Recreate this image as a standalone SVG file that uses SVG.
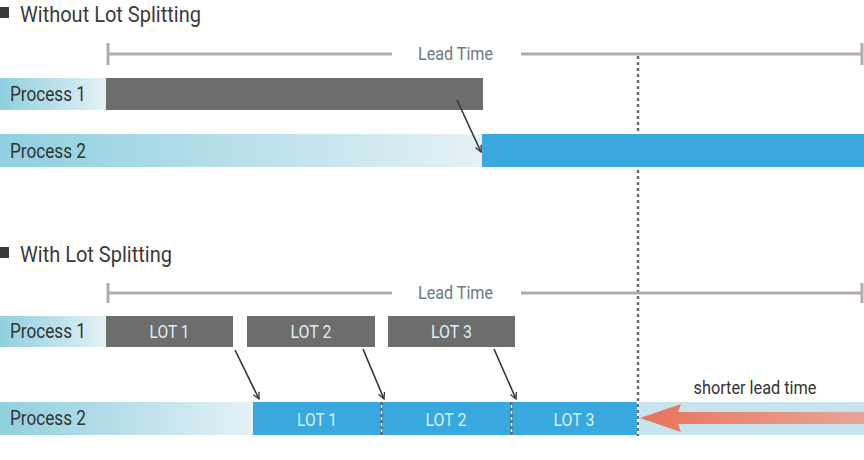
<svg xmlns="http://www.w3.org/2000/svg" width="864" height="460" viewBox="0 0 864 460">
<defs>
<linearGradient id="gLab" x1="0" y1="0" x2="1" y2="0">
<stop offset="0" stop-color="#8fd0df"/><stop offset="0.5" stop-color="#b9dfea"/><stop offset="1" stop-color="#e4f1f6"/>
</linearGradient>
<linearGradient id="gRed" x1="0" y1="0" x2="1" y2="0">
<stop offset="0" stop-color="#e8725a"/><stop offset="0.35" stop-color="#e8866f"/><stop offset="1" stop-color="#e5a497"/>
</linearGradient>
<marker id="ah" viewBox="0 0 10 10" refX="9" refY="5" markerWidth="8" markerHeight="8" markerUnits="userSpaceOnUse" orient="auto">
<path d="M1,1 L9,5 L1,9" fill="none" stroke="#333" stroke-width="1.6"/>
</marker>
</defs>
<style>
text{font-family:Roboto,"Liberation Sans",sans-serif}
.title{font-size:22px;fill:#3a3a3a}
.lab{font-size:19.5px;fill:#333}
.lead{font-size:19px;fill:#6e7880}
.lot{font-size:18.5px;fill:#dcf0f6}
.ln{stroke:#b3abab;stroke-width:3;fill:none}
.dark{fill:#6d6d6d}
.blue{fill:#38a8df}
.conn{stroke:#333;stroke-width:1.6;fill:none;marker-end:url(#ah)}
.sep{stroke:#6a6a6a;stroke-width:2.5;stroke-dasharray:3 3}
</style>
<g id="title1"><rect x="0" y="7" width="9" height="11" fill="#3a3a3a"/><text class="title" x="20" y="21.5" textLength="181" lengthAdjust="spacingAndGlyphs">Without Lot Splitting</text></g>
<g id="lead1">
<path class="ln" d="M108,43 V65 M108,54 H392 M521,54 H862 M862,43 V65"/>
<text class="lead" x="418" y="60" textLength="75" lengthAdjust="spacingAndGlyphs">Lead Time</text>
</g>
<g id="vline"><line x1="638" y1="56" x2="638" y2="436" class="sep"/></g>
<g id="p1a"><rect x="0" y="78" width="106" height="32" fill="url(#gLab)"/><text class="lab" x="10" y="101" textLength="76" lengthAdjust="spacingAndGlyphs">Process 1</text><rect class="dark" x="106" y="78" width="377" height="32"/></g>
<g id="p2a"><rect x="0" y="134" width="482" height="33" fill="url(#gLab)"/><text class="lab" x="10" y="158" textLength="76" lengthAdjust="spacingAndGlyphs">Process 2</text><rect class="blue" x="482" y="134" width="382" height="33"/></g>
<g id="title2"><rect x="0" y="247" width="9" height="11" fill="#3a3a3a"/><text class="title" x="20" y="261.5" textLength="152" lengthAdjust="spacingAndGlyphs">With Lot Splitting</text></g>
<g id="lead2">
<path class="ln" d="M108,283 V303 M108,293 H392 M521,293 H862 M862,283 V303"/>
<text class="lead" x="418" y="299" textLength="75" lengthAdjust="spacingAndGlyphs">Lead Time</text>
</g>
<g id="p1b"><rect x="0" y="316" width="106" height="31" fill="url(#gLab)"/><text class="lab" x="10" y="338" textLength="76" lengthAdjust="spacingAndGlyphs">Process 1</text></g>
<g id="lot1a"><rect class="dark" x="106" y="316" width="127" height="31"/><text class="lot" x="169.5" y="338" text-anchor="middle" textLength="40" lengthAdjust="spacingAndGlyphs">LOT 1</text></g>
<g id="lot2a"><rect class="dark" x="247" y="316" width="128" height="31"/><text class="lot" x="311" y="338" text-anchor="middle" textLength="41" lengthAdjust="spacingAndGlyphs">LOT 2</text></g>
<g id="lot3a"><rect class="dark" x="388" y="316" width="127" height="31"/><text class="lot" x="451.5" y="338" text-anchor="middle" textLength="41" lengthAdjust="spacingAndGlyphs">LOT 3</text></g>
<g id="p2b"><rect x="0" y="402" width="253" height="33" fill="url(#gLab)"/><text class="lab" x="10" y="425" textLength="76" lengthAdjust="spacingAndGlyphs">Process 2</text></g>
<g id="lot1b"><rect class="blue" x="253" y="402" width="128" height="33"/><text class="lot" x="317" y="426" text-anchor="middle" textLength="40" lengthAdjust="spacingAndGlyphs">LOT 1</text></g>
<g id="lot2b"><rect class="blue" x="382" y="402" width="129" height="33"/><text class="lot" x="446" y="426" text-anchor="middle" textLength="41" lengthAdjust="spacingAndGlyphs">LOT 2</text></g>
<g id="lot3b"><rect class="blue" x="512" y="402" width="125" height="33"/><text class="lot" x="574" y="426" text-anchor="middle" textLength="41" lengthAdjust="spacingAndGlyphs">LOT 3</text></g>
<g id="seps"><line class="sep" x1="381.5" y1="402" x2="381.5" y2="435"/><line class="sep" x1="511.5" y1="402" x2="511.5" y2="435"/></g>
<g id="shorter">
<rect x="639" y="402" width="225" height="33" fill="#c6e3ee"/>
<path d="M640,418 L681,404 L678,412 H864 V424 H678 L681,432 Z" fill="url(#gRed)"/>
<text x="755" y="394" text-anchor="middle" font-size="18" fill="#333" textLength="123" lengthAdjust="spacingAndGlyphs">shorter lead time</text>
</g>
<g id="connectors">
<line class="conn" x1="457" y1="100" x2="481" y2="152"/>
<line class="conn" x1="235" y1="350" x2="259" y2="399"/>
<line class="conn" x1="363" y1="349" x2="384" y2="399"/>
<line class="conn" x1="494" y1="349" x2="516" y2="399"/>
</g>
</svg>
